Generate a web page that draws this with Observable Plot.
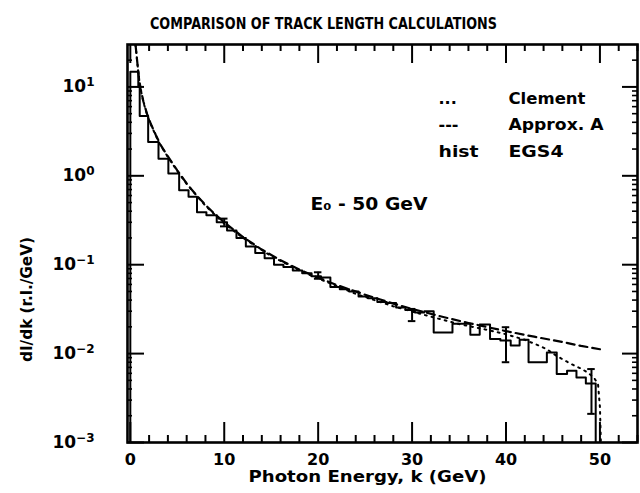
<!DOCTYPE html>
<html>
<head>
<meta charset="utf-8">
<script src="https://cdn.jsdelivr.net/npm/d3@7"></script>
<script src="https://cdn.jsdelivr.net/npm/@observablehq/plot@0.6"></script>
<style>
  html, body { margin: 0; padding: 0; background: #fff; }
</style>
</head>
<body>
<div id="chart"></div>
<script>
// ---------- texts ----------
const titleText = "COMPARISON OF TRACK LENGTH CALCULATIONS";
const xLabelText = "Photon Energy, k (GeV)";
const yLabelText = "dI/dk (r.l./GeV)";
const energyNote = "E₀ - 50 GeV";
const legendSymbols = ["...", "---", "hist"];
const legendNames = ["Clement", "Approx. A", "EGS4"];

// ---------- axis tick labels ----------
const xTickLabels = [0, 10, 20, 30, 40, 50];
const yTickLabels = [1e-3, 1e-2, 1e-1, 1, 10];

// ---------- EGS4 histogram: bin edges (GeV) and contents (r.l./GeV) ----------
const histEdges = [0, 0.85, 1.0, 1.9, 3.0, 4.05, 5.2, 6.2, 7.1, 8.1,
  9.2, 10.3, 11.3, 12.3, 13.3, 14.3, 15.3, 16.3, 17.3, 18.3,
  19.3, 20.3, 21.3, 22.3, 23.3, 24.3, 25.3, 26.3, 27.3, 28.3,
  29.3, 30.3, 31.3, 32.3, 33.3, 34.3, 35.3, 36.2, 37.2, 38.3,
  39.4, 40.5, 41.45, 42.4, 43.4, 44.35, 45.4, 46.5, 47.5, 48.5, 49.55];
const histValues = [14.8, 10, 4.7, 2.4, 1.56, 1.06, 0.69, 0.58, 0.39, 0.36,
  0.30, 0.243, 0.20, 0.16, 0.135, 0.118, 0.10, 0.094, 0.086, 0.080,
  0.074, 0.072, 0.056, 0.053, 0.050, 0.044, 0.042, 0.038, 0.037, 0.033,
  0.031, 0.029, 0.030, 0.0173, 0.0173, 0.0216, 0.0216, 0.0163, 0.0212, 0.0146,
  0.0140, 0.0123, 0.0143, 0.0080, 0.0080, 0.0103, 0.0059, 0.0064, 0.0054, 0.0046];

// ---------- EGS4 error bars ----------
const errK = [10, 20, 30, 40, 49.1];
const errLow = [0.27, 0.0695, 0.0232, 0.0080, 0.0021];
const errHigh = [0.33, 0.0822, 0.0318, 0.0198, 0.0067];

// ---------- Approx. A (dashed) ----------
const approxK = [0.55, 0.7, 0.9, 1.1, 1.4, 1.8, 2.2, 2.7, 3.2, 4, 5, 6, 7, 8, 9, 10, 12, 14, 16, 18, 20, 22, 25, 28, 30, 33, 36, 40, 43, 46, 48, 50];
const approxV = [30, 21, 13, 9.5, 6.8, 4.9, 3.8, 2.9, 2.25, 1.65, 1.15, 0.82, 0.61, 0.47, 0.37, 0.30, 0.205, 0.148, 0.112, 0.088, 0.0715, 0.059, 0.046, 0.0365, 0.0318, 0.0263, 0.0221, 0.0179, 0.0155, 0.0135, 0.0122, 0.0112];

// ---------- Clement (dotted) ----------
const clementK = [0.55, 0.7, 0.9, 1.1, 1.4, 1.8, 2.2, 2.7, 3.2, 4, 5, 6, 8, 10, 12, 15, 18, 20, 24, 28, 32, 35, 38, 40, 42, 43.5, 44.35, 45.4, 46.5, 47.2, 48.1, 48.8, 49.4, 49.8, 50, 50.1];
const clementV = [30, 21, 13, 9.4, 6.7, 4.8, 3.75, 2.85, 2.22, 1.63, 1.13, 0.81, 0.46, 0.29, 0.2, 0.125, 0.086, 0.070, 0.047, 0.034, 0.026, 0.0215, 0.0185, 0.0165, 0.0143, 0.0123, 0.0112, 0.0094, 0.0081, 0.0074, 0.0067, 0.006, 0.0053, 0.0045, 0.0025, 0.001];

// ---------- build tables ----------
const yMin = 1e-3, yMax = 30;
const histLine = [{k: histEdges[0], v: yMin}]
  .concat(histValues.map((v, i) => ({k: histEdges[i], v})))
  .concat([{k: histEdges[histEdges.length - 1], v: histValues[histValues.length - 1]},
           {k: histEdges[histEdges.length - 1], v: yMin}]);
const approx = approxK.map((k, i) => ({k, v: approxV[i]}));
const clement = clementK.map((k, i) => ({k, v: clementV[i]}));
const errs = errK.map((k, i) => ({k, lo: errLow[i], hi: errHigh[i]}));

const xMajor = d3.range(0, 51, 10);
const xMinor = d3.range(2, 55, 2).filter(d => d % 10 !== 0);
const yMajor = [1e-3, 1e-2, 1e-1, 1, 10];
const yMinor = [];
for (let e = -3; e <= 1; e++) for (let m = 2; m <= 9; m++) { const v = m * Math.pow(10, e); if (v < yMax) yMinor.push(v); }

const W = 640, H = 493, mL = 127, mR = 3, mT = 44, mB = 51;
const fw = W - mL - mR, fh = H - mT - mB;
const font = "'DejaVu Sans', sans-serif";

const marks = [
  // ticks (inward)
  Plot.tickX(xMajor, {x: d => d, insetTop: fh - 20, strokeWidth: 2}),
  Plot.tickX(xMinor, {x: d => d, insetTop: fh - 7, strokeWidth: 2}),
  Plot.tickX(xMajor, {x: d => d, insetBottom: fh - 19, strokeWidth: 2}),
  Plot.tickX(xMinor, {x: d => d, insetBottom: fh - 7, strokeWidth: 2}),
  Plot.tickY(yMajor, {y: d => d, insetRight: fw - 17, strokeWidth: 2}),
  Plot.tickY(yMinor, {y: d => d, insetRight: fw - 5, strokeWidth: 1.6}),
  Plot.tickY(yMajor, {y: d => d, insetLeft: fw - 15, strokeWidth: 2}),
  Plot.tickY(yMinor, {y: d => d, insetLeft: fw - 5, strokeWidth: 1.6}),
  // curves
  Plot.line(approx, {x: "k", y: "v", stroke: "#000", strokeWidth: 2.2, strokeDasharray: "8,5", clip: true}),
  Plot.line(clement, {x: "k", y: "v", stroke: "#000", strokeWidth: 2, strokeDasharray: "1.8,5", strokeLinecap: "round", clip: true}),
  Plot.line(histLine, {x: "k", y: "v", curve: "step-after", stroke: "#000", strokeWidth: 2, clip: true}),
  // error bars
  Plot.ruleX(errs, {x: "k", y1: "lo", y2: "hi", stroke: "#000", strokeWidth: 2}),
  Plot.ruleY(errs, {y: "lo", x1: d => d.k - 0.4, x2: d => d.k + 0.4, stroke: "#000", strokeWidth: 2}),
  Plot.ruleY(errs, {y: "hi", x1: d => d.k - 0.4, x2: d => d.k + 0.4, stroke: "#000", strokeWidth: 2}),
  Plot.frame({stroke: "#000", strokeWidth: 2.6}),
  // axes labels
  Plot.axisX(xTickLabels, {tickSize: 0, tickPadding: 11, label: null, fontSize: 16, fontWeight: "bold", lineAnchor: "top"}),
  Plot.axisY(yTickLabels, {tickSize: 0, tickPadding: 33, label: null, fontSize: 17, fontWeight: "bold",
    tickFormat: d => "10^" + Math.round(Math.log10(d))}),
  // title and axis titles
  Plot.text([titleText], {text: d => d, frameAnchor: "top-left", dx: 196, dy: -27, textAnchor: "middle", fontSize: 16, fontWeight: "bold"}),
  Plot.text([xLabelText], {text: d => d, frameAnchor: "bottom-left", dx: 240, dy: 39, textAnchor: "middle", fontSize: 15, fontWeight: "bold"}),
  Plot.text([yLabelText], {text: d => d, frameAnchor: "top-left", dx: -106, dy: 255, textAnchor: "middle", rotate: -90, fontSize: 15, fontWeight: "bold"}),
  // note
  Plot.text([energyNote], {text: d => d, frameAnchor: "top-left", dx: 183, dy: 153, textAnchor: "start", fontSize: 17, fontWeight: "bold"})
];
legendNames.forEach((name, i) => {
  marks.push(Plot.text([legendSymbols[i]], {text: d => d, frameAnchor: "top-left", dx: 311, dy: 48 + 26.5 * i, textAnchor: "start", fontSize: 16, fontWeight: "bold"}));
  marks.push(Plot.text([name], {text: d => d, frameAnchor: "top-left", dx: 381, dy: 48 + 26.5 * i, textAnchor: "start", fontSize: 16, fontWeight: "bold"}));
});

const chart = Plot.plot({
  width: W, height: H,
  marginLeft: mL, marginRight: mR, marginTop: mT, marginBottom: mB,
  x: {domain: [-0.3, 54]},
  y: {type: "log", domain: [yMin, yMax]},
  style: {fontFamily: font, background: "#fff", color: "#000", overflow: "visible"},
  marks
});
document.getElementById("chart").appendChild(chart);

// superscript exponents on the y tick labels
d3.select(chart).selectAll('g[aria-label="y-axis tick label"] text').each(function () {
  const t = this.textContent;
  if (t.startsWith("10^")) {
    const exp = t.slice(3).replace("-", "\u2212");
    const sel = d3.select(this);
    sel.text("10");
    sel.append("tspan").attr("dy", "-0.5em").attr("font-size", 12).text(exp);
  }
});
// fit widths of long text runs to the reference
const fits = {};
fits[titleText] = 347; fits[xLabelText] = 238; fits[yLabelText] = 125;
fits[energyNote] = 117; fits["Clement"] = 77; fits["Approx. A"] = 95; fits["EGS4"] = 55; fits["hist"] = 40;
d3.select(chart).selectAll("text").each(function () {
  const w = fits[this.textContent];
  if (w) d3.select(this).attr("textLength", w).attr("lengthAdjust", "spacingAndGlyphs");
});
</script>
</body>
</html>
